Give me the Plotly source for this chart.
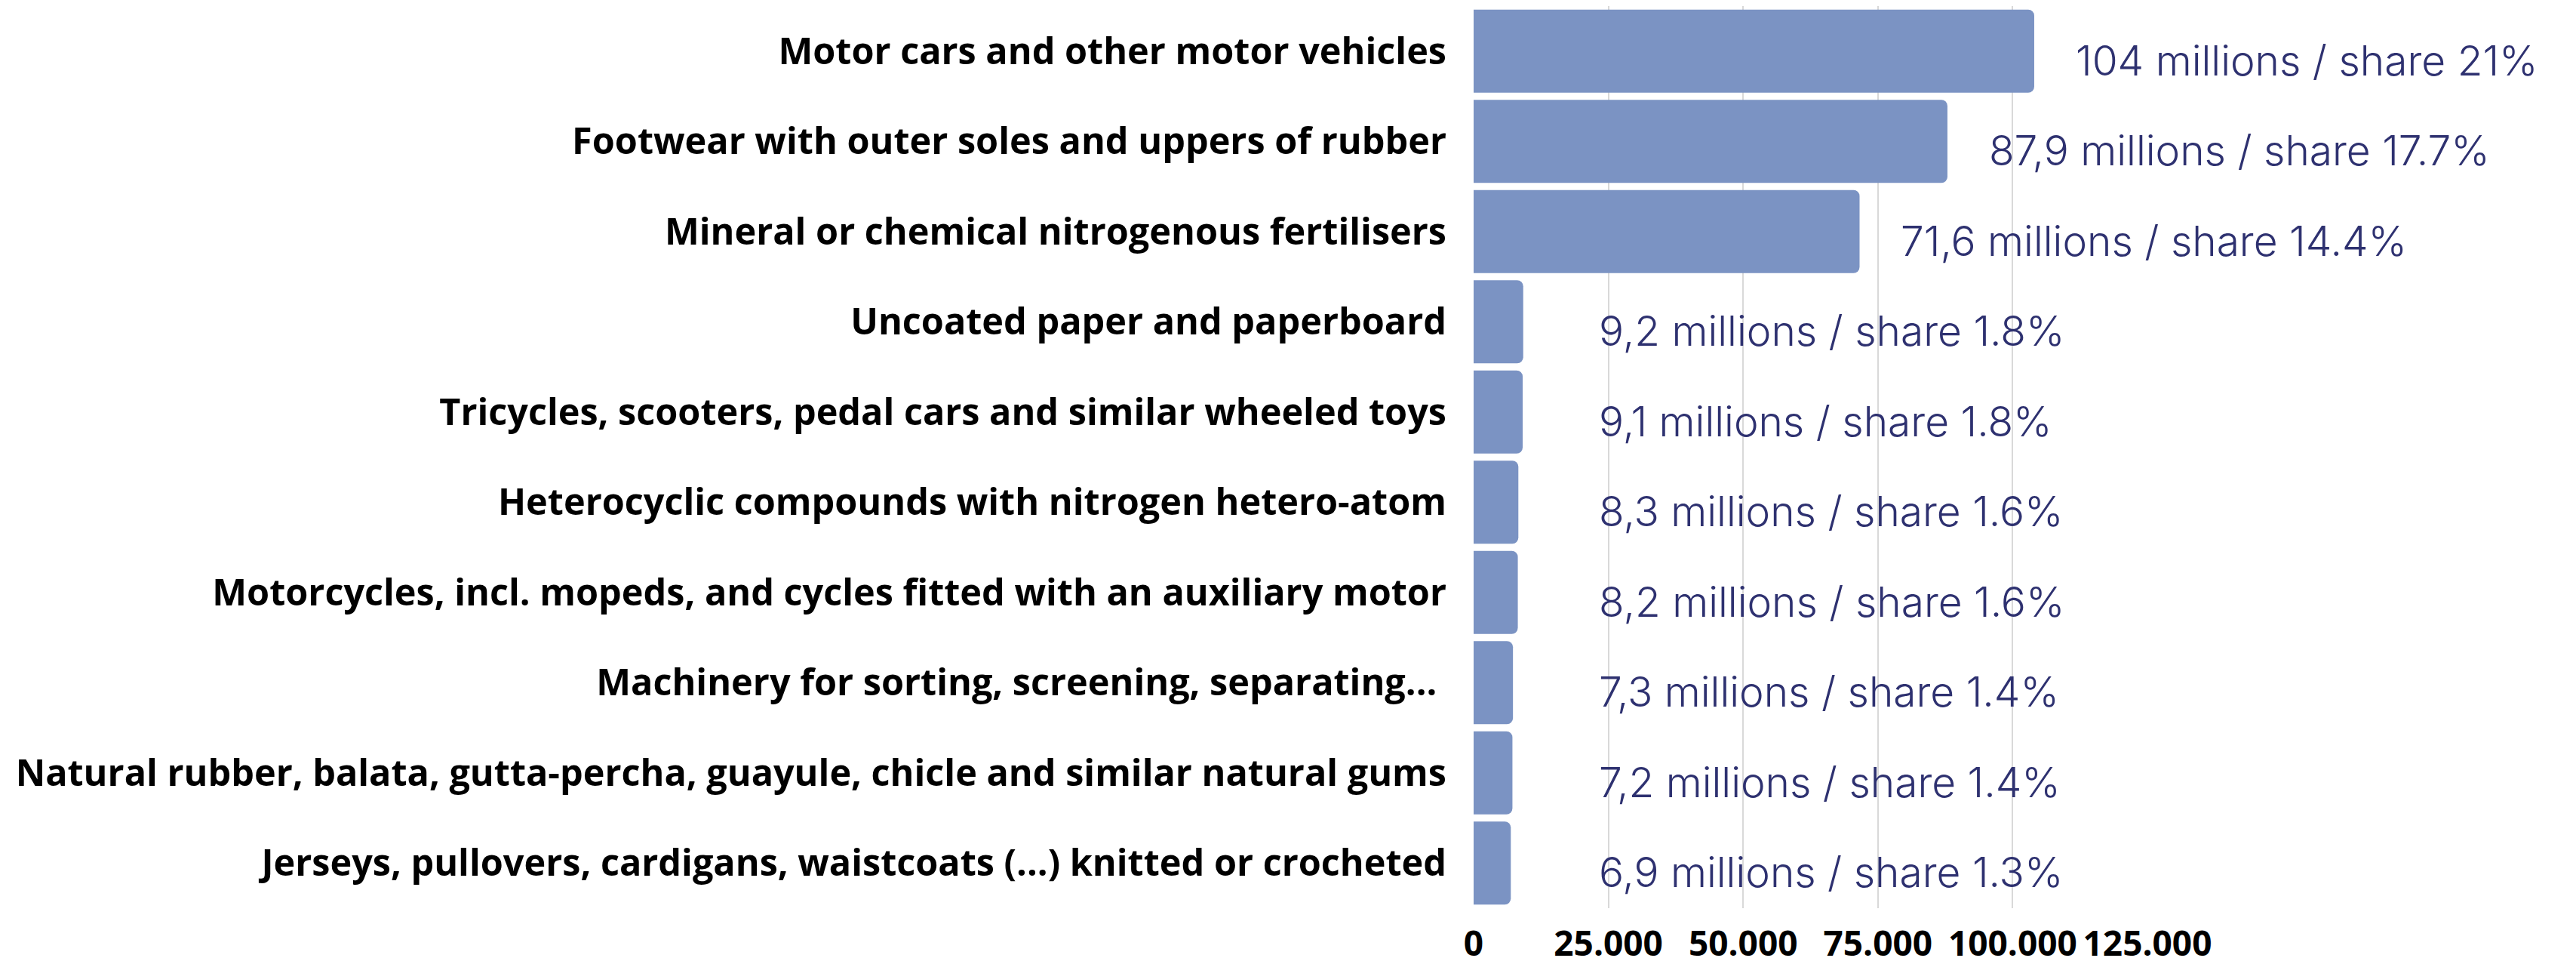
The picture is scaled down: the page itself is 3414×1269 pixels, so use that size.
import plotly.graph_objects as go

categories = [
    "Motor cars and other motor vehicles",
    "Footwear with outer soles and uppers of rubber",
    "Mineral or chemical nitrogenous fertilisers",
    "Uncoated paper and paperboard",
    "Tricycles, scooters, pedal cars and similar wheeled toys",
    "Heterocyclic compounds with nitrogen hetero-atom",
    "Motorcycles, incl. mopeds, and cycles fitted with an auxiliary motor",
    "Machinery for sorting, screening, separating... ",
    "Natural rubber, balata, gutta-percha, guayule, chicle and similar natural gums",
    "Jerseys, pullovers, cardigans, waistcoats (...) knitted or crocheted",
]
values = [104000, 87900, 71600, 9200, 9100, 8300, 8200, 7300, 7200, 6900]
value_labels = ["104", "87,9", "71,6", "9,2", "9,1", "8,3", "8,2", "7,3", "7,2", "6,9"]
shares = ["21", "17.7", "14.4", "1.8", "1.8", "1.6", "1.6", "1.4", "1.4", "1.3"]
tick_values = [0, 25000, 50000, 75000, 100000, 125000]

BAR_COLOR = "#7B93C3"
LABEL_COLOR = "#2E3170"

fig = go.Figure()
fig.add_trace(go.Bar(
    x=values, y=categories, orientation="h",
    marker=dict(color=BAR_COLOR, line=dict(width=0)),
    hoverinfo="skip",
))

LABEL_MIN = 15500
LABEL_OFFSET = 7400
for cat, v, vl, sh in zip(categories, values, value_labels, shares):
    fig.add_annotation(
        x=max(v, LABEL_MIN) + LABEL_OFFSET, y=cat, xref="x", yref="y",
        text=f"{vl} millions / share {sh}%",
        showarrow=False, xanchor="left", yanchor="middle", yshift=-12,
        font=dict(family="Inter", size=55, color=LABEL_COLOR, weight=300),
    )

# page body adds an 8px offset, so the figure is 8px smaller than the window
fig.update_layout(
    width=3406, height=1261,
    margin=dict(l=1945, r=568, t=0, b=66, pad=0),
    plot_bgcolor="white", paper_bgcolor="white",
    bargap=0.08, barcornerradius=8,
    separators=",.",
    showlegend=False,
    font=dict(family="Open Sans", color="black"),
)
fig.update_xaxes(
    range=[0, 125000], tickvals=tick_values, tickformat=",",
    showgrid=True, gridcolor="#D9D9D9", gridwidth=2,
    zeroline=False, showline=False, automargin=False,
    tickfont=dict(family="Open Sans", size=46, color="black", weight="bold"),
    ticklabelstandoff=16,
)
fig.update_yaxes(
    autorange="reversed", showgrid=False, zeroline=False, showline=False,
    automargin=False,
    tickfont=dict(family="Open Sans", size=48.6, color="black", weight="bold"),
    ticklabelstandoff=35,
)

fig.write_html("out.html")
